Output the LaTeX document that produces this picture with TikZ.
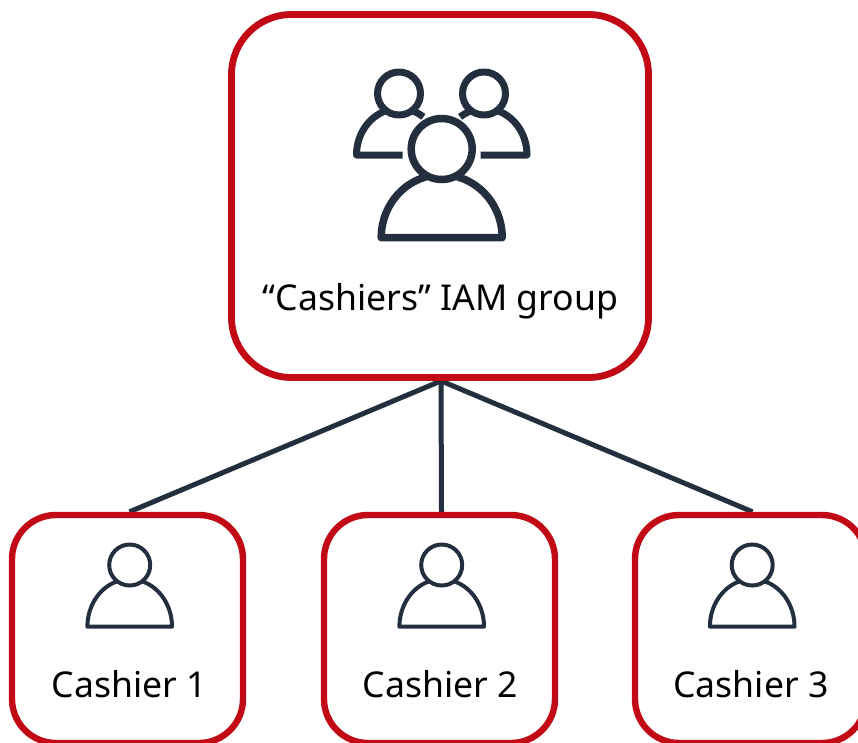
\documentclass[tikz,border=0pt]{standalone}
\usepackage{fontspec}
\setmainfont{Noto Sans}
\usetikzlibrary{backgrounds}
\definecolor{awsred}{HTML}{C20A17}
\definecolor{awsink}{HTML}{232F3E}
\tikzset{
  rolebox/.style={draw=awsred,line width=6.4pt,rounded corners=44pt,minimum width=231pt,minimum height=228pt,inner sep=0pt},
  groupbox/.style={draw=awsred,line width=6.8pt,rounded corners=60pt,minimum width=417pt,minimum height=363pt,inner sep=0pt},
  link/.style={draw=awsink,line width=5pt},
  lbl/.style={text=black,font=\fontsize{35.6}{40}\selectfont,inner sep=0pt},
  bigicon/.style={draw=awsink,line width=7.5pt,line join=round},
  smallicon/.style={draw=awsink,line width=4pt,line join=round},
  sideicon/.style={draw=awsink,line width=7pt,line join=round}
}
\begin{document}
\begin{tikzpicture}[x=1pt,y=-1pt]
\useasboundingbox (0,0) rectangle (858,742);
\clip (0,0) rectangle (858,742);
\node[groupbox] (group) at (440,196) {};
\node[rolebox] (c1) at (127.5,629) {};
\node[rolebox] (c2) at (439.5,629) {};
\node[rolebox] (c3) at (750.5,629) {};
\begin{scope}[on background layer]
\draw[link] ([xshift=1pt]group.south) -- ([xshift=2pt]c1.north);
\draw[link] ([xshift=1pt]group.south) -- ([xshift=2pt]c2.north);
\draw[link] ([xshift=1pt]group.south) -- ([xshift=2pt]c3.north);
\end{scope}
\node[lbl] (t0) at (440.5,301) {“Cashiers” IAM group};
\node[lbl] (t1) at (129.5,684) {Cashier 1};
\node[lbl] (t2) at (440.5,684) {Cashier 2};
\node[lbl] (t3) at (751,684) {Cashier 3};
% large icon
\draw[bigicon] (441.7,149) circle (30.5);
\draw[bigicon] plot[domain=105:180,samples=40,smooth] ({441.7+60.5*cos(\x)},{237.7-63*sin(\x)})
  -- plot[domain=0:75,samples=40,smooth] ({441.7+60.5*cos(\x)},{237.7-63*sin(\x)});
% left icon
\draw[sideicon] (399,93.5) circle (21.5);
\draw[sideicon] plot[domain=105:180,samples=40,smooth] ({399+42.5*cos(\x)},{155-46.5*sin(\x)}) -- (402.7,155);
\draw[sideicon] plot[domain=75:55,samples=10,smooth] ({399+42.5*cos(\x)},{155-46.5*sin(\x)});
% right icon
\draw[sideicon] (484,93.5) circle (21.5);
\draw[sideicon] plot[domain=75:0,samples=40,smooth] ({484.5+42.5*cos(\x)},{155-46.5*sin(\x)}) -- (480.7,155);
\draw[sideicon] plot[domain=105:125,samples=10,smooth] ({484.5+42.5*cos(\x)},{155-46.5*sin(\x)});
% small icons
\foreach \cx in {129.7,441.7,752.2}{
  \draw[smallicon] (\cx,565) circle (20.5);
  \draw[smallicon] plot[domain=107:180,samples=40,smooth] ({\cx+42.3*cos(\x)},{626.7-47.5*sin(\x)})
    -- plot[domain=0:73,samples=40,smooth] ({\cx+42.3*cos(\x)},{626.7-47.5*sin(\x)});
}
\end{tikzpicture}
\end{document}
